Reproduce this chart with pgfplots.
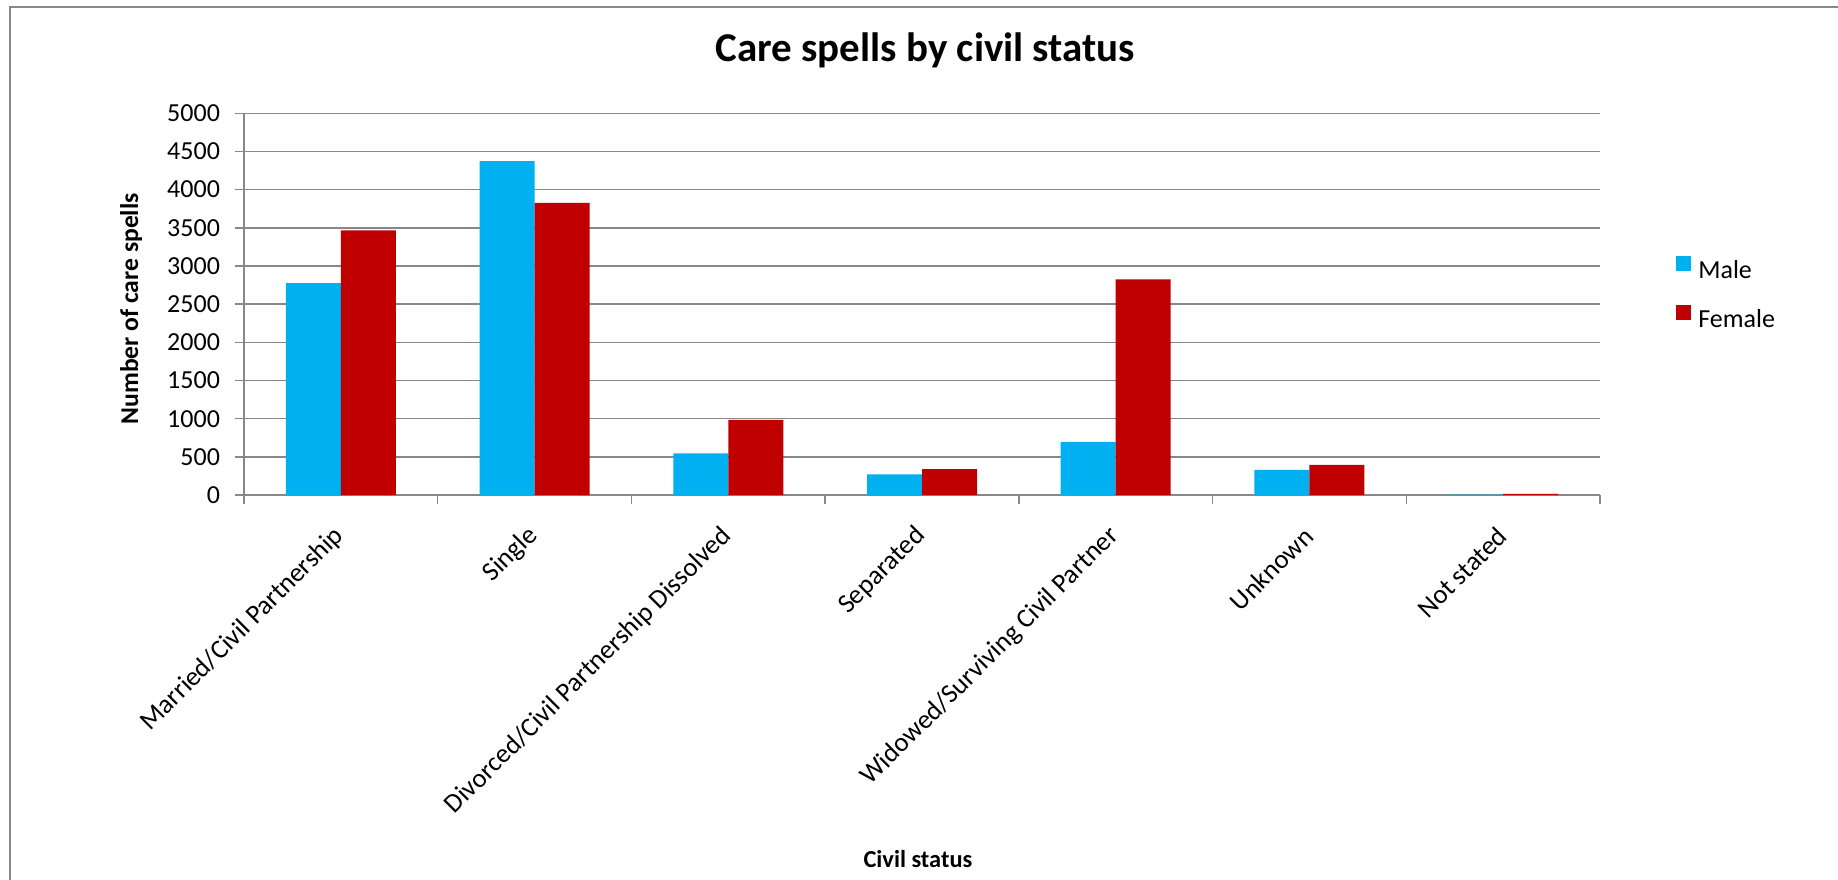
\documentclass[border=0pt]{standalone}
\usepackage{fontspec}
\setmainfont{Carlito}
\usepackage{pgfplots}
\pgfplotsset{compat=1.18}
\definecolor{male}{HTML}{00B0F0}
\definecolor{female}{HTML}{C00000}
\definecolor{gridc}{HTML}{888888}
\begin{document}
\begin{tikzpicture}
\useasboundingbox (0,0) rectangle (919pt,439.5pt);
\fill[white] (0,0) rectangle (919pt,439.5pt);
\draw[gridc, line width=1pt] (5pt,-2pt) -- (5pt,436pt) -- (921pt,436pt);
\begin{axis}[
  at={(122pt,192pt)}, anchor=south west,
  scale only axis, width=678pt, height=190.85pt,
  ybar=0pt, bar width=27.5pt,
  xmin=-0.5, xmax=6.5, ymin=0, ymax=5000,
  ytick={0,500,...,5000},
  xtick={-0.5,0.5,...,6.5},
  xticklabels={},
  extra x ticks={0,1,2,3,4,5,6},
  extra x tick labels={Married/Civil Partnership,Single,Divorced/Civil Partnership Dissolved,Separated,Widowed/Surviving Civil Partner,Unknown,Not stated},
  extra x tick style={major tick length=0pt, grid=none,
    xticklabel style={xshift=2pt, yshift=-16pt, rotate=45, anchor=east, font=\fontsize{13.4}{16}\selectfont}},
  tick align=outside, major tick length=4.5pt,
  axis x line*=bottom, axis y line*=left,
  axis line style={gridc, line width=0.75pt, -},
  tick style={gridc, line width=0.75pt},
  ymajorgrids, grid style={gridc, line width=0.75pt},
  /pgf/number format/assume math mode=true,
  /pgf/number format/1000 sep={},
  yticklabel style={font=\fontsize{13}{15}\selectfont, xshift=-4pt},
  ylabel={Number of care spells},
  ylabel style={at={(axis description cs:-0.0833,0.488)}, anchor=center, font=\bfseries\fontsize{12.8}{15}\selectfont},
  xlabel={Civil status},
  xlabel style={at={(axis description cs:0.497,-0.954)}, anchor=center, font=\bfseries\fontsize{12.2}{14}\selectfont},
  title={Care spells by civil status},
  title style={at={(axis description cs:0.5025,1.105)}, anchor=base, font=\bfseries\fontsize{20.5}{24}\selectfont},
  legend style={at={(axis description cs:1.056,0.523)}, anchor=west, draw=none, fill=none, inner sep=0pt,
    font=\fontsize{13}{15}\selectfont, row sep=9.5pt, column sep=1.5pt, nodes={inner sep=2pt}},
  legend cell align=left,
  legend image code/.code={\fill[#1,draw=none] (0pt,0pt) rectangle (7.5pt,7.5pt);},
]
\addplot[fill=male, draw=none] coordinates {(0,2775) (1,4375) (2,545) (3,270) (4,695) (5,330) (6,5)};
\addplot[fill=female, draw=none] coordinates {(0,3465) (1,3825) (2,985) (3,340) (4,2825) (5,395) (6,15)};
\legend{Male,Female}
\end{axis}
\end{tikzpicture}
\end{document}
